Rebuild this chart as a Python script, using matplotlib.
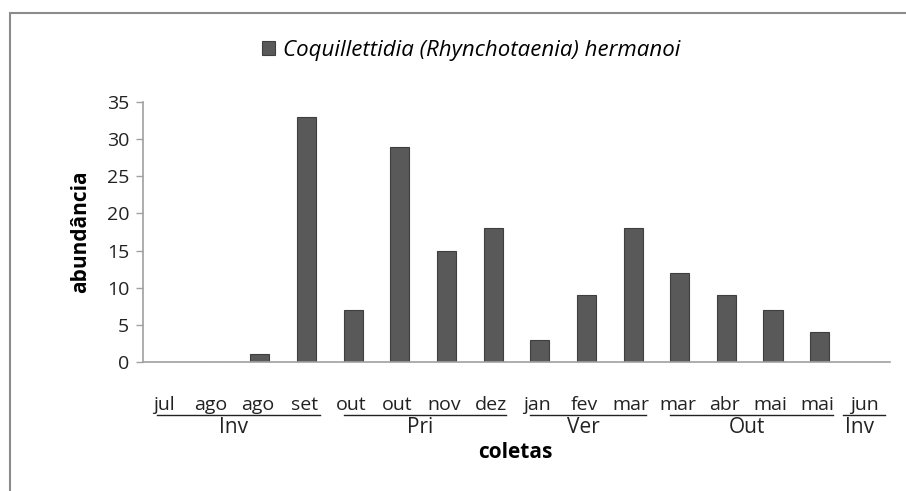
import matplotlib.pyplot as plt
from matplotlib.patches import Rectangle
import numpy as np

plt.rcParams['font.family'] = ['Open Sans', 'DejaVu Sans']

# collection months and counts
meses = ['jul', 'ago', 'ago', 'set', 'out', 'out', 'nov', 'dez',
         'jan', 'fev', 'mar', 'mar', 'abr', 'mai', 'mai', 'jun']
abundancia = [0, 0, 1, 33, 7, 29, 15, 18, 3, 9, 18, 12, 9, 7, 4, 0]

# seasons: name, first and last month index of each group
estacoes = ['Inv', 'Pri', 'Ver', 'Out', 'Inv']
est_ini = [0, 4, 8, 11, 15]
est_fim = [3, 7, 10, 14, 15]

fs = 14

fig = plt.figure(figsize=(9.06, 4.91), dpi=100)
ax = fig.add_axes([0.158, 0.263, 0.824, 0.529])

x = np.arange(len(meses))
ax.bar(x, abundancia, width=0.41, color='#595959', edgecolor='#3f3f3f',
       linewidth=0.8, label='Coquillettidia (Rhynchotaenia) hermanoi')

ax.set_xlim(-0.5, len(meses) - 0.5)
ax.set_ylim(0, 35)
ax.set_yticks(range(0, 36, 5))
ax.tick_params(axis='y', labelsize=fs, length=5, width=1, pad=5,
               labelcolor='#222222', color='#a0a0a0')
ax.set_xticks([])
for s in ['top', 'right']:
    ax.spines[s].set_visible(False)
for s in ['left', 'bottom']:
    ax.spines[s].set_color('#a0a0a0')
    ax.spines[s].set_linewidth(1.2)

ax.set_ylabel('abundância', fontsize=15, fontweight='bold', labelpad=11)

# month labels
trans = ax.get_xaxis_transform()
for i, m in enumerate(meses):
    ax.text(i - 0.05, -0.165, m, transform=trans, ha='center', va='center',
            fontsize=fs, color='#222222')

# season underline and labels (hand placed text boxes in the original)
for nome, a, b in zip(estacoes, est_ini, est_fim):
    if a == b:
        x0, x1 = a - 0.5, b + 0.4
    else:
        x0, x1 = a - 0.2, b + 0.28
    ax.plot([x0, x1], [-0.205, -0.205], transform=trans,
            color='#222222', lw=1, clip_on=False)
    ax.text((x0 + x1) / 2 - 0.1, -0.252, nome, transform=trans,
            ha='center', va='center', fontsize=15, color='#222222')

ax.text(7.48, -0.35, 'coletas', transform=trans, ha='center', va='center',
        fontsize=15, fontweight='bold')

leg = ax.legend(loc='center', bbox_to_anchor=(0.52, 0.898),
                bbox_transform=fig.transFigure, frameon=False,
                prop={'size': 16, 'style': 'italic'}, handlelength=0.6,
                handleheight=0.6, handletextpad=0.35)

# outer chart frame
fig.patches.append(Rectangle((10 / 906, -0.05), 1.1, 1 - 12.5 / 491 + 0.05,
                             transform=fig.transFigure, fill=False,
                             edgecolor='#8c8c8c', linewidth=1.5))

fig.savefig('out.png', dpi=100)
